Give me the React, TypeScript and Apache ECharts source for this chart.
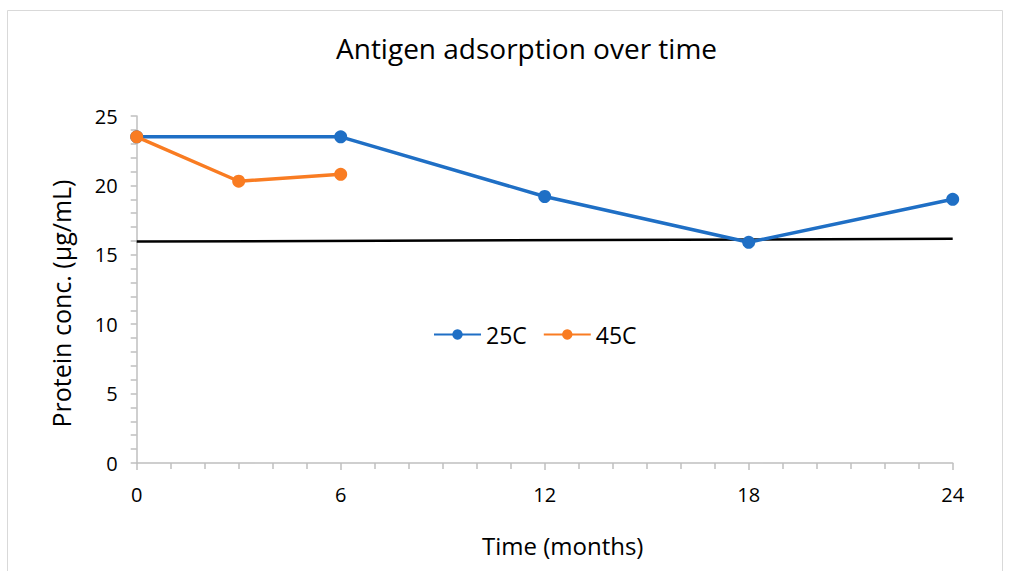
import React, { useEffect, useRef } from "react";
import * as echarts from "echarts";

const months25 = [0, 6, 12, 18, 24];
const conc25 = [23.5, 23.5, 19.2, 15.9, 19.0];
const months45 = [0, 3, 6];
const conc45 = [23.5, 20.3, 20.8];
const refMonths = [0, 24];
const refConc = [15.95, 16.15];

const FONT = "Open Sans";

export default function App() {
  const ref = useRef<HTMLDivElement>(null);
  useEffect(() => {
    if (!ref.current) return;
    const chart = echarts.init(ref.current, null, { renderer: "svg" });
    const pair = (xs: number[], ys: number[]) => xs.map((x, i) => [x, ys[i]]);
    chart.setOption({
      animation: false,
      backgroundColor: "#ffffff",
      textStyle: { fontFamily: FONT },
      title: {
        text: "Antigen adsorption over time",
        left: 331,
        top: 29,
        textStyle: { fontFamily: FONT, fontSize: 28, fontWeight: "normal", color: "#000" },
      },
      graphic: [
        {
          type: "rect",
          shape: { x: 7.5, y: 10.5, width: 995, height: 580 },
          style: { fill: "none", stroke: "#d9d9d9", lineWidth: 1 },
          silent: true,
        },
      ],
      legend: {
        left: 428,
        top: 318,
        itemWidth: 47,
        itemHeight: 13,
        itemGap: 16,
        textStyle: { fontFamily: FONT, fontSize: 23, color: "#000" },
        data: ["25C", "45C"],
      },
      grid: { left: 136.7, right: 60.3, top: 116, bottom: 108 },
      xAxis: {
        type: "value",
        min: 0,
        max: 24,
        interval: 6,
        name: "Time (months)",
        nameLocation: "middle",
        nameGap: 70,
        nameTextStyle: { fontFamily: FONT, fontSize: 24, color: "#000", padding: [0, 0, 0, 36] },
        axisLine: { lineStyle: { color: "#bfbfbf", width: 1.5 } },
        axisTick: { show: true, length: 7, lineStyle: { color: "#bfbfbf", width: 1.5 } },
        minorTick: { show: true, splitNumber: 6, length: 6, lineStyle: { color: "#bfbfbf", width: 1.5 } },
        splitLine: { show: false },
        axisLabel: { fontFamily: FONT, fontSize: 20, color: "#000", margin: 21 },
      },
      yAxis: {
        type: "value",
        min: 0,
        max: 25,
        interval: 5,
        name: "Protein conc. (µg/mL)",
        nameLocation: "middle",
        nameGap: 63,
        nameTextStyle: { fontFamily: FONT, fontSize: 25, color: "#000", padding: [0, 28, 0, 0] },
        axisLine: { show: true, lineStyle: { color: "#bfbfbf", width: 1.5 } },
        axisTick: { show: true, length: 6, lineStyle: { color: "#bfbfbf", width: 1.5 } },
        minorTick: { show: true, splitNumber: 5, length: 6, lineStyle: { color: "#bfbfbf", width: 1.5 } },
        splitLine: { show: false },
        axisLabel: { fontFamily: FONT, fontSize: 20, color: "#000", margin: 19 },
      },
      series: [
        {
          name: "threshold",
          type: "line",
          data: pair(refMonths, refConc),
          symbol: "none",
          lineStyle: { color: "#000", width: 2.5 },
          z: 1,
          silent: true,
        },
        {
          name: "25C",
          type: "line",
          data: pair(months25, conc25),
          symbol: "circle",
          symbolSize: 13,
          itemStyle: { color: "#1f6fc5" },
          lineStyle: { color: "#1f6fc5", width: 3.5 },
          z: 3,
        },
        {
          name: "45C",
          type: "line",
          data: pair(months45, conc45),
          symbol: "circle",
          symbolSize: 13,
          itemStyle: { color: "#f97c22" },
          lineStyle: { color: "#f97c22", width: 3.5 },
          z: 4,
        },
      ],
    });
    return () => chart.dispose();
  }, []);
  return (
    <div
      ref={ref}
      style={{ position: "fixed", left: 0, top: 0, width: 1013, height: 571 }}
    />
  );
}
